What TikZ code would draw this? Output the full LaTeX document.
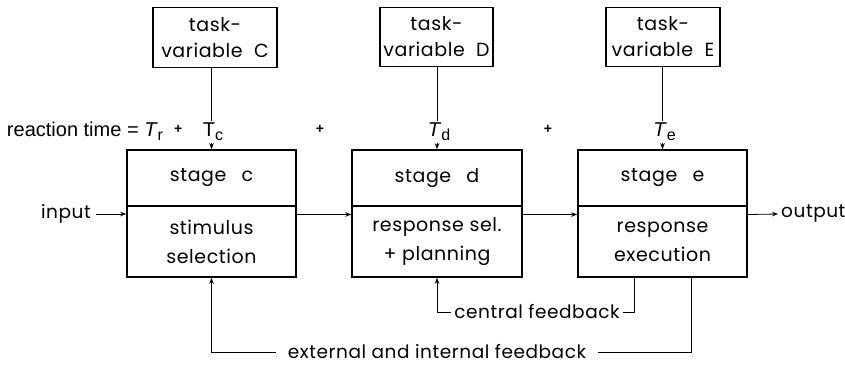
\documentclass[tikz,border=0pt]{standalone}
\usepackage{fontspec}
\setmainfont{Poppins}[LetterSpace=3]
\newfontfamily\arialf{Liberation Sans}
\usetikzlibrary{arrows.meta,calc}
\newcommand{\tsub}[1]{\raisebox{-0.35ex}{\fontsize{16}{16}\selectfont #1}}
\newcommand{\smallplus}{\raisebox{0.25ex}{\fontsize{14}{14}\selectfont\bfseries +}}
\begin{document}
\begin{tikzpicture}[x=1pt,y=-1pt,
  box/.style={draw,line width=1.6pt,inner sep=0pt,align=center},
  lbl/.style={font=\fontsize{19}{26}\selectfont},
  txt/.style={font=\fontsize{18.5}{22}\selectfont},
  conn/.style={line width=0.8pt},
  arr/.style={conn,-{Stealth[length=6pt,width=4.5pt]}},
  tlab/.style={inner sep=1.5pt,font=\arialf\fontsize{20}{22}\selectfont}]
\useasboundingbox (0,0) rectangle (845,365);
% task boxes
\node[box,lbl,minimum width=124pt,minimum height=60pt] (tC) at (215,37.5) {task-\\variable\hspace{0.6em}C};
\node[box,lbl,minimum width=113pt,minimum height=59pt] (tD) at (436.5,37) {task-\\variable\hspace{0.6em}D};
\node[box,lbl,minimum width=114pt,minimum height=59pt] (tE) at (663,37) {task-\\variable\hspace{0.6em}E};
% stage boxes
\foreach \n/\cx/\w/\a/\b/\c in {c/211.5/169/stage\hspace{0.8em}c/stimulus/selection,
                                d/437/170/stage\hspace{0.8em}d/response\ sel./+\ planning,
                                e/662.5/169/stage\hspace{0.8em}e/response/execution}{
  \node[box,lbl,minimum width=\w pt,minimum height=56pt] (s\n t) at (\cx,178) {\a};
  \node[box,font=\fontsize{19}{29}\selectfont,minimum width=\w pt,minimum height=71pt] (s\n b) at (\cx,241.5) {\b\\\c};
}
% T labels
\node[tlab] (Tc) at (213,132) {T\tsub{c}};
\node[tlab] (Td) at (439,132) {\textit{T}\tsub{d}};
\node[tlab] (Te) at (664.5,132) {\textit{T}\tsub{e}};
\node[tlab,anchor=east] (rt) at (184,131) {reaction time = \textit{T}\tsub{r}\ \ \smallplus};
\node[tlab] (p1) at (320,131) {\smallplus};
\node[tlab] (p2) at (548,131) {\smallplus};
\draw[conn] (tC.south -| sct.north) -- (Tc.north -| sct.north);
\draw[arr] (Tc.south -| sct.north) -- (sct.north);
\draw[conn] (tD.south -| sdt.north) -- (Td.north -| sdt.north);
\draw[arr] (Td.south -| sdt.north) -- (sdt.north);
\draw[conn] (tE.south -| set.north) -- (Te.north -| set.north);
\draw[arr] (Te.south -| set.north) -- (set.north);
% input / output
\node[txt,anchor=east,inner sep=5pt] (in) at (96,214) {input};
\node[txt,anchor=west,inner sep=3pt] (out) at (778,214) {output};
\draw[arr] (in.east) -- (in.east -| scb.west);
\draw[arr] ([yshift=27pt]scb.east) -- ([yshift=27pt]sdb.west);
\draw[arr] ([yshift=27pt]sdb.east) -- ([yshift=27pt]seb.west);
\draw[arr] ([yshift=27pt]seb.east) -- (out.west);
% central feedback
\node[txt,inner sep=3pt] (cf) at (537,312) {central feedback};
\coordinate (ce) at (634,277);
\draw[conn] (ce) |- (cf.east);
\draw[arr] (cf.west) -| (sdb.south);
% external feedback
\node[txt,inner sep=12pt] (ef) at (437,352) {external and internal feedback};
\coordinate (ee) at (691,277);
\draw[conn] (ee) |- (ef.east);
\draw[arr] (ef.west) -| (scb.south);
\end{tikzpicture}
\end{document}
